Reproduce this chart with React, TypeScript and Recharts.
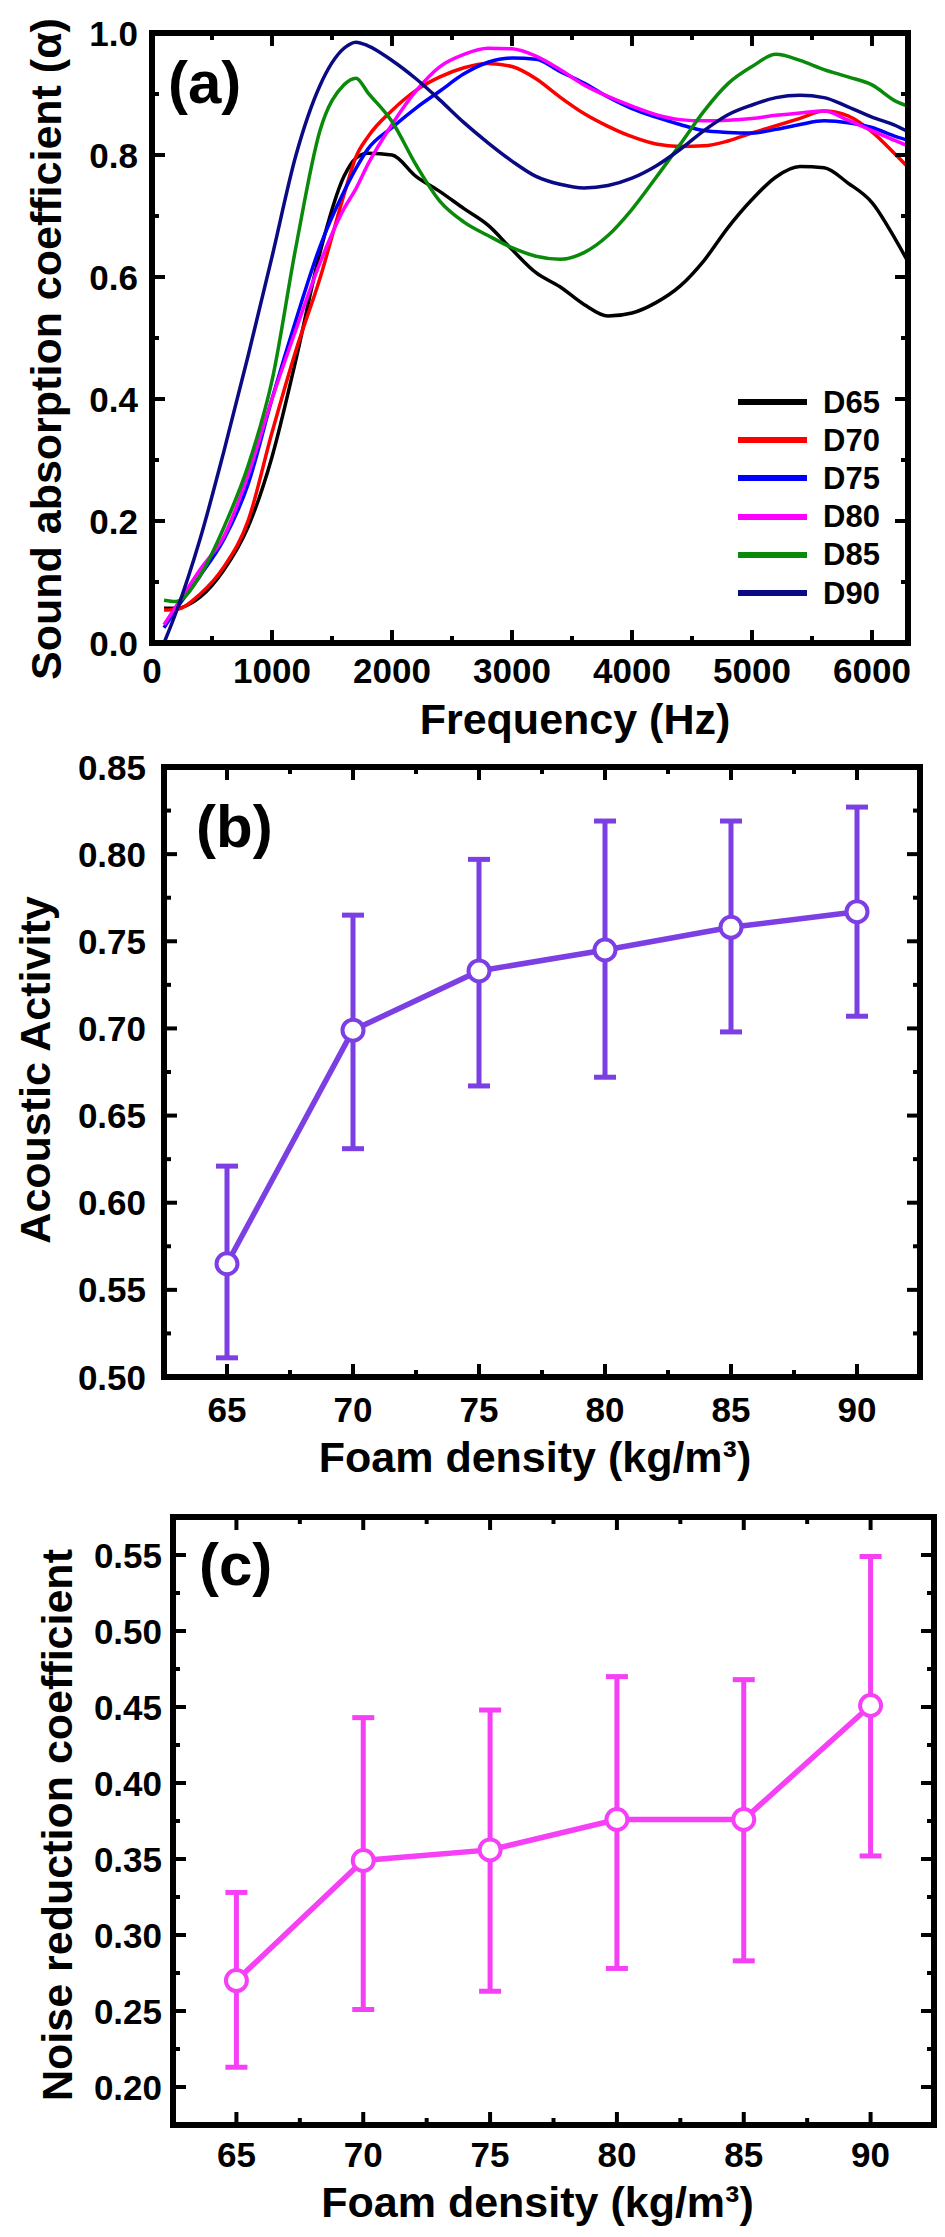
import React from 'react';
import { LineChart, Line, XAxis, YAxis, ErrorBar, Legend } from 'recharts';

const FONT = '"Liberation Sans", Arial, Helvetica, sans-serif';
const FRAME = { stroke: '#000', strokeWidth: 6, strokeLinecap: 'square' as const };

// (a) sound absorption coefficient vs frequency
const frequencies = [
  100, 200, 400, 600, 800, 1000, 1200, 1400, 1600, 1700, 1800, 2000, 2200, 2400, 2600, 2800, 3000,
  3200, 3400, 3600, 3800, 4000, 4200, 4400, 4600, 4800, 5000, 5200, 5400, 5600, 5800, 6000, 6200, 6300,
];
const d65 = [
  0.057, 0.057, 0.075, 0.12, 0.19, 0.305, 0.465, 0.64, 0.765, 0.795, 0.803, 0.8, 0.765, 0.74, 0.712,
  0.685, 0.645, 0.607, 0.584, 0.555, 0.536, 0.541, 0.558, 0.585, 0.627, 0.681, 0.727, 0.764, 0.781,
  0.779, 0.754, 0.722, 0.66, 0.625,
];
const d70 = [
  0.054, 0.055, 0.08, 0.125, 0.2, 0.345, 0.48, 0.598, 0.735, 0.797, 0.83, 0.873, 0.906, 0.928, 0.943,
  0.95, 0.945, 0.925, 0.895, 0.868, 0.847, 0.83, 0.818, 0.814, 0.815, 0.823, 0.836, 0.848, 0.86,
  0.872, 0.864, 0.838, 0.8, 0.78,
];
const d75 = [
  0.025, 0.055, 0.11, 0.17, 0.26, 0.4, 0.53, 0.65, 0.74, 0.778, 0.81, 0.845, 0.877, 0.905, 0.933,
  0.952, 0.959, 0.957, 0.937, 0.918, 0.895, 0.876, 0.862, 0.85, 0.84, 0.837, 0.836, 0.842, 0.85,
  0.856, 0.853, 0.845, 0.83, 0.824,
];
const d80 = [
  0.03, 0.06, 0.12, 0.175, 0.275, 0.4, 0.514, 0.623, 0.712, 0.745, 0.785, 0.85, 0.905, 0.945, 0.965,
  0.975, 0.974, 0.962, 0.94, 0.915, 0.896, 0.88, 0.866, 0.858, 0.856, 0.857, 0.86, 0.865, 0.869,
  0.872, 0.857, 0.84, 0.823, 0.815,
];
const d85 = [
  0.07, 0.068, 0.11, 0.19, 0.29, 0.43, 0.65, 0.84, 0.915, 0.926, 0.902, 0.855, 0.784, 0.724, 0.69,
  0.668, 0.648, 0.634, 0.629, 0.64, 0.668, 0.711, 0.763, 0.817, 0.872, 0.917, 0.945, 0.965, 0.955,
  0.94, 0.928, 0.915, 0.888, 0.88,
];
const d90 = [
  0.0, 0.05, 0.17, 0.315, 0.47, 0.633, 0.8, 0.914, 0.975, 0.985, 0.979, 0.955, 0.925, 0.89, 0.853,
  0.82, 0.79, 0.765, 0.752, 0.746, 0.75, 0.762, 0.782, 0.809, 0.84, 0.866, 0.882, 0.894, 0.898,
  0.894, 0.879, 0.862, 0.848, 0.838,
];
const seriesNames = ['D65', 'D70', 'D75', 'D80', 'D85', 'D90'];
const seriesValues = [d65, d70, d75, d80, d85, d90];
const seriesColors = ['#000000', '#ff0000', '#0000ff', '#ff00ff', '#0a8a0a', '#0a0a85'];

const freqTicks = [0, 500, 1000, 1500, 2000, 2500, 3000, 3500, 4000, 4500, 5000, 5500, 6000];
const freqMajor = [0, 1000, 2000, 3000, 4000, 5000, 6000];
const alphaTicks = [0, 0.1, 0.2, 0.3, 0.4, 0.5, 0.6, 0.7, 0.8, 0.9, 1.0];
const alphaMajor = [0, 0.2, 0.4, 0.6, 0.8, 1.0];

// (b) acoustic activity and (c) noise reduction coefficient vs foam density
const densities = [65, 70, 75, 80, 85, 90];
const activity = [0.565, 0.699, 0.733, 0.745, 0.758, 0.767];
const activityLow = [0.511, 0.631, 0.667, 0.672, 0.698, 0.707];
const activityHigh = [0.621, 0.765, 0.797, 0.819, 0.819, 0.827];
const nrc = [0.27, 0.349, 0.356, 0.376, 0.376, 0.451];
const nrcLow = [0.213, 0.251, 0.263, 0.278, 0.283, 0.352];
const nrcHigh = [0.328, 0.443, 0.448, 0.47, 0.468, 0.549];

const densityTicks = [65, 67.5, 70, 72.5, 75, 77.5, 80, 82.5, 85, 87.5, 90];
const densityMajor = [65, 70, 75, 80, 85, 90];
const activityTicks = [0.5, 0.525, 0.55, 0.575, 0.6, 0.625, 0.65, 0.675, 0.7, 0.725, 0.75, 0.775, 0.8, 0.825, 0.85];
const activityMajor = [0.5, 0.55, 0.6, 0.65, 0.7, 0.75, 0.8, 0.85];
const nrcTicks = [0.2, 0.225, 0.25, 0.275, 0.3, 0.325, 0.35, 0.375, 0.4, 0.425, 0.45, 0.475, 0.5, 0.525, 0.55];
const nrcMajor = [0.2, 0.25, 0.3, 0.35, 0.4, 0.45, 0.5, 0.55];

const absorptionData = frequencies.map((f, i) => {
  const row: Record<string, number> = { f };
  seriesNames.forEach((name, s) => {
    row[name] = seriesValues[s][i];
  });
  return row;
});

const activityData = densities.map((d, i) => ({
  d,
  v: activity[i],
  err: [activity[i] - activityLow[i], activityHigh[i] - activity[i]],
}));

const nrcData = densities.map((d, i) => ({
  d,
  v: nrc[i],
  err: [nrc[i] - nrcLow[i], nrcHigh[i] - nrc[i]],
}));

const textStyle = { fontFamily: FONT, fontWeight: 700, fill: '#000' };

type Side = 'bottom' | 'top' | 'left' | 'right';

function FrameTick(props: any) {
  const { x = 0, y = 0, payload, side, majorTicks, decimals = 0, labelGap = 0 } = props as {
    x: number;
    y: number;
    payload: { value: number };
    side: Side;
    majorTicks: number[];
    decimals: number;
    labelGap: number;
  };
  const v = payload ? Number(payload.value) : 0;
  const major = majorTicks.some((m) => Math.abs(m - v) < 1e-6);
  const len = major ? 13 : 7;
  const ts = { stroke: '#000', strokeWidth: 4 };
  let mark;
  if (side === 'bottom') mark = <line x1={x} y1={y} x2={x} y2={y - len} {...ts} />;
  else if (side === 'top') mark = <line x1={x} y1={y} x2={x} y2={y + len} {...ts} />;
  else if (side === 'left') mark = <line x1={x} y1={y} x2={x + len} y2={y} {...ts} />;
  else mark = <line x1={x} y1={y} x2={x - len} y2={y} {...ts} />;

  let label = null;
  if (major && side === 'bottom') {
    label = (
      <text x={x} y={y + labelGap} textAnchor="middle" fontSize={35} {...textStyle}>
        {v.toFixed(decimals)}
      </text>
    );
  } else if (major && side === 'left') {
    label = (
      <text x={x - labelGap} y={y} dy="0.36em" textAnchor="end" fontSize={35} {...textStyle}>
        {v.toFixed(decimals)}
      </text>
    );
  }
  return (
    <g>
      {mark}
      {label}
    </g>
  );
}

function AxisTitle(props: any) {
  const { viewBox, text, vertical, dxPx = 0, dyPx = 0 } = props;
  if (!viewBox) return null;
  if (vertical) {
    const x = viewBox.x + dxPx;
    const y = viewBox.y + viewBox.height / 2 + dyPx;
    return (
      <text x={x} y={y} transform={`rotate(-90 ${x} ${y})`} textAnchor="middle" fontSize={43} {...textStyle}>
        {text}
      </text>
    );
  }
  const x = viewBox.x + viewBox.width / 2 + dxPx;
  const y = viewBox.y + dyPx;
  return (
    <text x={x} y={y} textAnchor="middle" fontSize={43} {...textStyle}>
      {text}
    </text>
  );
}

function PanelTag(props: any) {
  const { viewBox, text, dxPx = 0, dyPx = 0 } = props;
  if (!viewBox) return null;
  return (
    <text x={viewBox.x + dxPx} y={viewBox.y + dyPx} fontSize={60} {...textStyle}>
      {text}
    </text>
  );
}

function CurveLegend(props: any) {
  const { payload = [] } = props;
  return (
    <div style={{ fontFamily: FONT, fontWeight: 700, fontSize: 31, color: '#000' }}>
      {payload.map((entry: any) => (
        <div key={entry.value} style={{ display: 'flex', alignItems: 'center', height: 38.2 }}>
          <span style={{ display: 'inline-block', width: 69, height: 6, background: entry.color, marginRight: 16 }} />
          <span style={{ lineHeight: '31px' }}>{entry.value}</span>
        </div>
      ))}
    </div>
  );
}

type FrameAxesProps = {
  xKey: string;
  yKey: string;
  xDomain: [number, number];
  yDomain: [number, number];
  xTicks: number[];
  xMajor: number[];
  yTicks: number[];
  yMajor: number[];
  xDecimals: number;
  yDecimals: number;
  yWidth: number;
  xHeight: number;
  xGap: number;
  yGap: number;
};

// four framed axes: labelled bottom/left, tick-only top/right (1px boxes so they still render)
function frameAxes(p: FrameAxesProps, xTitle: React.ReactElement, yTitle: React.ReactElement, tag: React.ReactElement) {
  const common = { type: 'number' as const, interval: 0, axisLine: FRAME, tickLine: false, tickSize: 0, tickMargin: 0, allowDataOverflow: true };
  return [
    <XAxis
      key="xb"
      xAxisId={0}
      dataKey={p.xKey}
      {...common}
      domain={p.xDomain}
      ticks={p.xTicks}
      height={p.xHeight}
      tick={<FrameTick side="bottom" majorTicks={p.xMajor} decimals={p.xDecimals} labelGap={p.xGap} />}
      label={xTitle}
    />,
    <XAxis
      key="xt"
      xAxisId="top"
      dataKey={p.xKey}
      orientation="top"
      {...common}
      domain={p.xDomain}
      ticks={p.xTicks}
      height={1}
      tick={<FrameTick side="top" majorTicks={p.xMajor} />}
      label={tag}
    />,
    <YAxis
      key="yl"
      yAxisId={0}
      {...common}
      domain={p.yDomain}
      ticks={p.yTicks}
      width={p.yWidth}
      tick={<FrameTick side="left" majorTicks={p.yMajor} decimals={p.yDecimals} labelGap={p.yGap} />}
      label={yTitle}
    />,
    <YAxis
      key="yr"
      yAxisId="right"
      dataKey={p.yKey}
      orientation="right"
      {...common}
      domain={p.yDomain}
      ticks={p.yTicks}
      width={1}
      tick={<FrameTick side="right" majorTicks={p.yMajor} />}
    />,
  ];
}

export default function App() {
  return (
    <div style={{ position: 'relative', width: 945, height: 2237, background: '#fff', overflow: 'hidden' }}>
      <style>{'body{margin:0;}'}</style>

      <div style={{ position: 'absolute', left: 0, top: 0 }}>
        <LineChart width={945} height={746} data={absorptionData} margin={{ top: 32, right: 36, left: 0, bottom: 0 }}>
          {frameAxes(
            {
              xKey: 'f',
              yKey: 'D65',
              xDomain: [0, 6300],
              yDomain: [0, 1],
              xTicks: freqTicks,
              xMajor: freqMajor,
              yTicks: alphaTicks,
              yMajor: alphaMajor,
              xDecimals: 0,
              yDecimals: 1,
              yWidth: 152,
              xHeight: 103,
              xGap: 40,
              yGap: 14,
            },
            <AxisTitle text="Frequency (Hz)" dxPx={45} dyPx={91} />,
            <AxisTitle text="Sound absorption coefficient (α)" vertical dxPx={61} dyPx={11} />,
            <PanelTag text="(a)" dxPx={16} dyPx={71} />
          )}
          <Legend
            layout="vertical"
            align="center"
            verticalAlign="middle"
            content={<CurveLegend />}
            wrapperStyle={{ left: 738, top: 383, width: 170, height: 240 }}
          />
          {seriesNames.map((name, s) => (
            <Line
              key={name}
              dataKey={name}
              name={name}
              type="monotone"
              stroke={seriesColors[s]}
              strokeWidth={3.5}
              dot={false}
              activeDot={false}
              isAnimationActive={false}
            />
          ))}
        </LineChart>
      </div>

      <div style={{ position: 'absolute', left: 0, top: 746 }}>
        <LineChart width={945} height={744} data={activityData} margin={{ top: 20, right: 24, left: 0, bottom: 0 }}>
          {frameAxes(
            {
              xKey: 'd',
              yKey: 'v',
              xDomain: [62.5, 92.5],
              yDomain: [0.5, 0.85],
              xTicks: densityTicks,
              xMajor: densityMajor,
              yTicks: activityTicks,
              yMajor: activityMajor,
              xDecimals: 0,
              yDecimals: 2,
              yWidth: 164,
              xHeight: 113,
              xGap: 45,
              yGap: 18,
            },
            <AxisTitle text="Foam density (kg/m³)" dxPx={-7} dyPx={95} />,
            <AxisTitle text="Acoustic Activity" vertical dxPx={50} dyPx={-2} />,
            <PanelTag text="(b)" dxPx={32} dyPx={81} />
          )}
          <Line
            dataKey="v"
            type="linear"
            stroke="#7b3fe4"
            strokeWidth={5.5}
            dot={{ r: 10.5, fill: '#fff', stroke: '#7b3fe4', strokeWidth: 4 }}
            activeDot={false}
            isAnimationActive={false}
          >
            <ErrorBar dataKey="err" direction="y" width={11} stroke="#7b3fe4" strokeWidth={5} isAnimationActive={false} />
          </Line>
        </LineChart>
      </div>

      <div style={{ position: 'absolute', left: 0, top: 1490 }}>
        <LineChart width={945} height={747} data={nrcData} margin={{ top: 26, right: 10, left: 0, bottom: 0 }}>
          {frameAxes(
            {
              xKey: 'd',
              yKey: 'v',
              xDomain: [62.5, 92.5],
              yDomain: [0.175, 0.575],
              xTicks: densityTicks,
              xMajor: densityMajor,
              yTicks: nrcTicks,
              yMajor: nrcMajor,
              xDecimals: 0,
              yDecimals: 2,
              yWidth: 173,
              xHeight: 112,
              xGap: 42,
              yGap: 11,
            },
            <AxisTitle text="Foam density (kg/m³)" dxPx={-16} dyPx={92} />,
            <AxisTitle text="Noise reduction coefficient" vertical dxPx={72} dyPx={4} />,
            <PanelTag text="(c)" dxPx={26} dyPx={69} />
          )}
          <Line
            dataKey="v"
            type="linear"
            stroke="#f540f5"
            strokeWidth={5.5}
            dot={{ r: 10.5, fill: '#fff', stroke: '#f540f5', strokeWidth: 4 }}
            activeDot={false}
            isAnimationActive={false}
          >
            <ErrorBar dataKey="err" direction="y" width={11} stroke="#f540f5" strokeWidth={5} isAnimationActive={false} />
          </Line>
        </LineChart>
      </div>
    </div>
  );
}
